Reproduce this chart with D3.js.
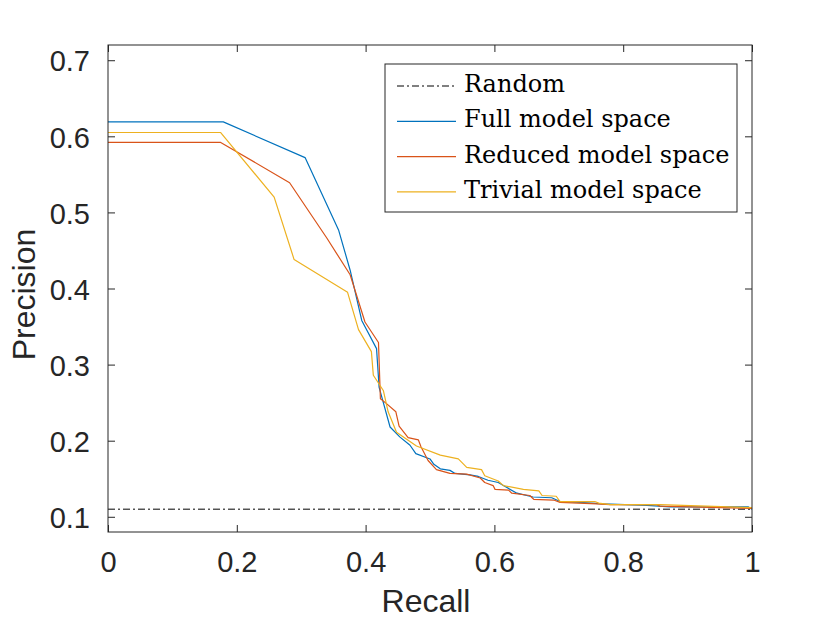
<!DOCTYPE html>
<html>
<head>
<meta charset="utf-8">
<script src="https://cdn.jsdelivr.net/npm/d3@7"></script>
<style>
  body { margin: 0; background: #fff; }
  svg { display: block; }
</style>
</head>
<body>
<div id="chart"></div>
<script>
// Precision-recall curves
const randomLevel = 0.110;

const fullModel = [
  [0, 0.619], [0.179, 0.619], [0.306, 0.572], [0.358, 0.477], [0.376, 0.424],
  [0.394, 0.358], [0.417, 0.321], [0.421, 0.270], [0.438, 0.218], [0.453, 0.205],
  [0.469, 0.194], [0.478, 0.183], [0.500, 0.176], [0.506, 0.169], [0.516, 0.163],
  [0.531, 0.161], [0.539, 0.157], [0.562, 0.155], [0.575, 0.153], [0.590, 0.148],
  [0.606, 0.145], [0.616, 0.140], [0.635, 0.131], [0.660, 0.126], [0.689, 0.125],
  [0.702, 0.120], [0.733, 0.119], [0.769, 0.117], [0.837, 0.115], [0.873, 0.113],
  [0.994, 0.113], [1.0, 0.110]
];

const reducedModel = [
  [0, 0.592], [0.175, 0.592], [0.282, 0.539], [0.340, 0.466], [0.376, 0.418],
  [0.399, 0.356], [0.420, 0.329], [0.423, 0.255], [0.432, 0.249], [0.447, 0.238],
  [0.452, 0.219], [0.466, 0.204], [0.482, 0.201], [0.486, 0.192], [0.497, 0.174],
  [0.510, 0.162], [0.531, 0.157], [0.557, 0.156], [0.578, 0.151], [0.585, 0.145],
  [0.598, 0.141], [0.601, 0.136], [0.622, 0.135], [0.627, 0.131], [0.655, 0.128],
  [0.661, 0.123], [0.692, 0.122], [0.702, 0.119], [0.759, 0.117], [0.780, 0.116],
  [0.852, 0.116], [0.857, 0.114], [1.0, 0.111]
];

const trivialModel = [
  [0, 0.605], [0.175, 0.605], [0.258, 0.520], [0.289, 0.438], [0.372, 0.395],
  [0.389, 0.346], [0.409, 0.317], [0.412, 0.286], [0.4275, 0.266], [0.435, 0.238],
  [0.448, 0.211], [0.479, 0.193], [0.516, 0.181], [0.544, 0.176], [0.557, 0.165],
  [0.580, 0.162], [0.585, 0.154], [0.606, 0.147], [0.614, 0.141], [0.645, 0.136],
  [0.669, 0.134], [0.674, 0.128], [0.696, 0.127], [0.702, 0.120], [0.756, 0.120],
  [0.762, 0.118], [0.780, 0.116], [0.857, 0.116], [1.0, 0.112]
];

const seriesNames = ["Random", "Full model space", "Reduced model space", "Trivial model space"];
const xTicks = [0, 0.2, 0.4, 0.6, 0.8, 1];
const yTicks = [0.1, 0.2, 0.3, 0.4, 0.5, 0.6, 0.7];

const width = 830, height = 623;
const margin = { left: 108, right: 78, top: 45, bottom: 91 };
const axisColor = "#262626";
const colors = ["#000000", "#0072BD", "#D95319", "#EDB120"];

const svg = d3.select("#chart").append("svg")
  .attr("width", width)
  .attr("height", height);

svg.append("rect").attr("width", width).attr("height", height).attr("fill", "#fff");

const x = d3.scaleLinear().domain([0, 1]).range([margin.left, width - margin.right]);
const y = d3.scaleLinear().domain([0.08, 0.72]).range([height - margin.bottom, margin.top]);

const tickFont = "'Liberation Sans', Arial, Helvetica, sans-serif";

// axes (MATLAB style: ticks pointing in, box on)
const xAxis = d3.axisBottom(x).tickValues(xTicks).tickFormat(d3.format("~g"))
  .tickSizeInner(-7).tickSizeOuter(0).tickPadding(19);
const yAxis = d3.axisLeft(y).tickValues(yTicks).tickFormat(d3.format(".1f"))
  .tickSizeInner(-7).tickSizeOuter(0).tickPadding(18);

const gx = svg.append("g")
  .attr("transform", `translate(0,${height - margin.bottom})`)
  .call(xAxis);
const gy = svg.append("g")
  .attr("transform", `translate(${margin.left},0)`)
  .call(yAxis);

svg.append("g")
  .attr("transform", `translate(0,${margin.top})`)
  .call(d3.axisTop(x).tickValues(xTicks).tickFormat("").tickSizeInner(-7).tickSizeOuter(0));
svg.append("g")
  .attr("transform", `translate(${width - margin.right},0)`)
  .call(d3.axisRight(y).tickValues(yTicks).tickFormat("").tickSizeInner(-7).tickSizeOuter(0));

svg.selectAll(".domain").remove();
svg.selectAll(".tick line").attr("stroke", axisColor).attr("stroke-width", 1);
svg.selectAll(".tick text")
  .attr("fill", axisColor)
  .style("font-family", tickFont)
  .style("font-size", "29px");
gy.selectAll(".tick text").attr("dy", "0.37em");

// lines
const line = d3.line().x(d => x(d[0])).y(d => y(d[1]));
const plot = svg.append("g");

plot.append("path")
  .datum([[0, randomLevel], [1, randomLevel]])
  .attr("d", line)
  .attr("fill", "none")
  .attr("stroke", colors[0])
  .attr("stroke-width", 1)
  .attr("stroke-dasharray", "7,3,2,3");

[fullModel, reducedModel, trivialModel].forEach((s, i) => {
  plot.append("path")
    .datum(s)
    .attr("d", line)
    .attr("fill", "none")
    .attr("stroke", colors[i + 1])
    .attr("stroke-width", 1.2)
    .attr("stroke-linejoin", "round");
});

// box
svg.append("rect")
  .attr("x", margin.left)
  .attr("y", margin.top)
  .attr("width", width - margin.left - margin.right)
  .attr("height", height - margin.top - margin.bottom)
  .attr("fill", "none")
  .attr("stroke", axisColor)
  .attr("stroke-width", 1);

// axis labels
svg.append("text")
  .attr("x", (margin.left + width - margin.right) / 2 - 4)
  .attr("y", 612)
  .attr("text-anchor", "middle")
  .attr("fill", axisColor)
  .style("font-family", tickFont)
  .style("font-size", "32px")
  .text("Recall");

svg.append("text")
  .attr("transform", `translate(35,${(margin.top + height - margin.bottom) / 2 + 6}) rotate(-90)`)
  .attr("text-anchor", "middle")
  .attr("fill", axisColor)
  .style("font-family", tickFont)
  .style("font-size", "32px")
  .text("Precision");

// legend
const legend = svg.append("g").attr("transform", "translate(385,64)");
legend.append("rect")
  .attr("width", 352)
  .attr("height", 148)
  .attr("fill", "#fff")
  .attr("stroke", axisColor)
  .attr("stroke-width", 1);

const rows = legend.selectAll("g.row")
  .data(seriesNames)
  .join("g")
  .attr("class", "row")
  .attr("transform", (d, i) => `translate(0,${28 + i * 35.3})`);

rows.append("line")
  .attr("x1", 12).attr("x2", 71)
  .attr("y1", -6).attr("y2", -6)
  .attr("stroke", (d, i) => colors[i])
  .attr("stroke-width", (d, i) => i === 0 ? 1 : 1.2)
  .attr("stroke-dasharray", (d, i) => i === 0 ? "7,3,2,3" : null);

rows.append("text")
  .attr("x", 79)
  .attr("fill", "#000")
  .style("font-family", "'DejaVu Serif', serif")
  .style("font-size", "24px")
  .text(d => d);
</script>
</body>
</html>
